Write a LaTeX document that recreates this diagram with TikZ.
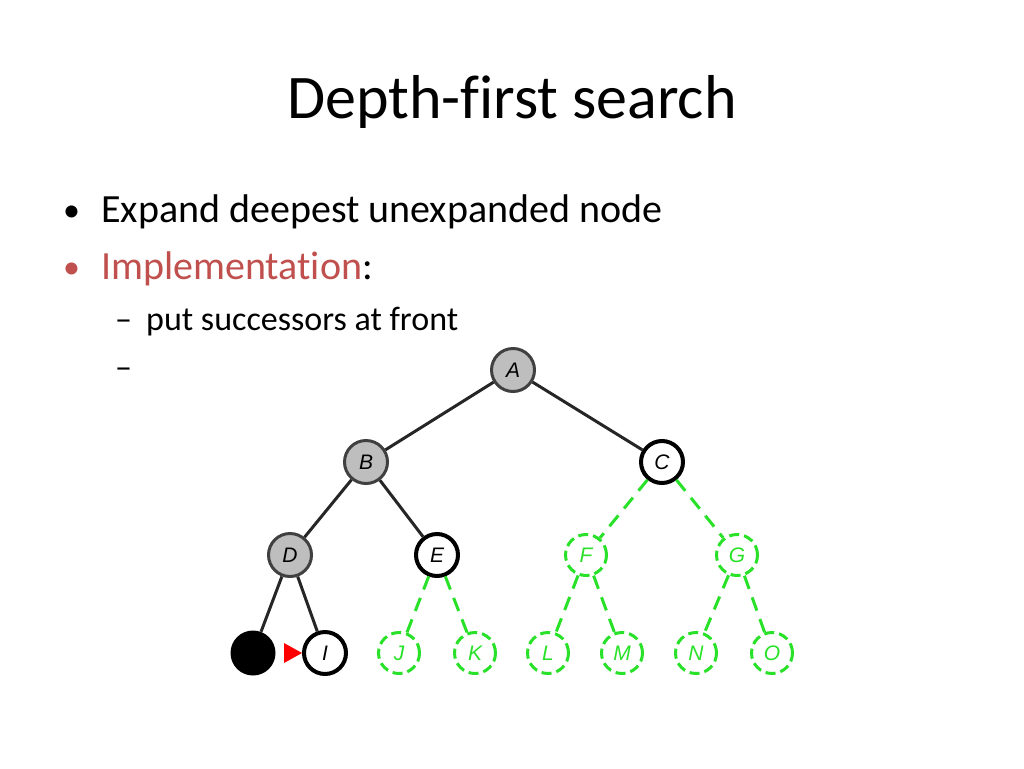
\documentclass[tikz,border=0pt]{standalone}
\usepackage{fontspec}
\setmainfont{Carlito}[Ligatures=NoCommon]
\newfontfamily\lblfont{Liberation Sans}
\usetikzlibrary{arrows.meta}
\definecolor{accred}{RGB}{192,80,77}
\definecolor{visgray}{RGB}{190,190,190}
\definecolor{fgreen}{RGB}{40,225,40}
\begin{document}
\begin{tikzpicture}[x=1pt,y=-1pt,
  lbl/.style={font=\lblfont\itshape\fontsize{21}{21}\selectfont},
  vnode/.style={circle,draw=black!75,line width=3pt,fill=visgray,minimum size=43pt,inner sep=0pt,lbl},
  fnode/.style={circle,draw=black,line width=4pt,fill=white,minimum size=42pt,inner sep=0pt,lbl},
  gnode/.style={circle,draw=fgreen,line width=3pt,dash pattern=on 10pt off 5pt,minimum size=41pt,inner sep=0pt,text=fgreen,lbl},
  hnode/.style={circle,fill=black,minimum size=45pt,inner sep=0pt},
  tedge/.style={draw=black!85,line width=3pt},
  gedge/.style={draw=fgreen,line width=3pt,dash pattern=on 14pt off 9pt},
  txt/.style={anchor=base west,inner sep=0pt}
]
\useasboundingbox (0,0) rectangle (1024,768);
\node[anchor=base,inner sep=0pt,font=\fontsize{62}{62}\selectfont] (title) at (512,118) {Depth-first search};
\node[txt,font=\fontsize{34}{34}\selectfont] (b1) at (63,221) {•};
\node[txt,font=\fontsize{40}{40}\selectfont] (t1) at (101,222) {Expand deepest unexpanded node};
\node[txt,font=\fontsize{34}{34}\selectfont,text=accred] (b2) at (63,278) {•};
\node[txt,font=\fontsize{40}{40}\selectfont] (t2) at (101,279) {\textcolor{accred}{Implementation}:};
\node[txt,font=\fontsize{34}{34}\selectfont] (d1) at (115,330) {–};
\node[txt,font=\fontsize{34}{34}\selectfont] (t3) at (146,330) {put successors at front};
\node[txt,font=\fontsize{34}{34}\selectfont] (d2) at (115,378) {–};

\node[vnode] (A) at (513,370) {A};
\node[vnode] (B) at (366,462) {B};
\node[fnode] (C) at (662,462) {C};
\node[vnode] (D) at (290,555) {D};
\node[fnode] (E) at (437,555) {E};
\node[gnode] (F) at (586,555) {F};
\node[gnode] (G) at (737,555) {G};
\node[hnode] (H) at (253,653) {};
\node[fnode] (I) at (325,653) {I};
\node[gnode] (J) at (399,653) {J};
\node[gnode] (K) at (475,653) {K};
\node[gnode] (L) at (548,653) {L};
\node[gnode] (M) at (622,653) {M};
\node[gnode] (N) at (696,653) {N};
\node[gnode] (O) at (772,653) {O};

\draw[tedge] (A) -- (B);
\draw[tedge] (A) -- (C);
\draw[tedge] (B) -- (D);
\draw[tedge] (B) -- (E);
\draw[tedge] (D) -- (H);
\draw[tedge] (D) -- (I);
\draw[gedge] (C) -- (F);
\draw[gedge] (C) -- (G);
\draw[gedge] (E) -- (J);
\draw[gedge] (E) -- (K);
\draw[gedge] (F) -- (L);
\draw[gedge] (F) -- (M);
\draw[gedge] (G) -- (N);
\draw[gedge] (G) -- (O);
\coordinate (rtip) at (302,653);
\fill[red] (284,643) -- (rtip) -- (284,663) -- cycle;
\end{tikzpicture}
\end{document}
